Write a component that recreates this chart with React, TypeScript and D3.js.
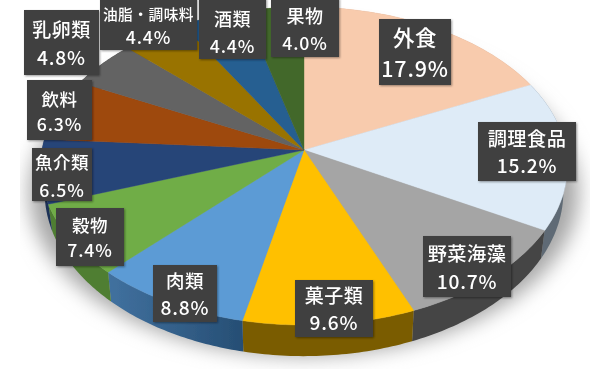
import React from "react";
import * as d3 from "d3";

const categories = ["外食", "調理食品", "野菜海藻", "菓子類", "肉類", "穀物", "魚介類", "飲料", "乳卵類", "油脂・調味料", "酒類", "果物"];
const shares = [17.9, 15.2, 10.7, 9.6, 8.8, 7.4, 6.5, 6.3, 4.8, 4.4, 4.4, 4.0];
const topColors = ["#F8CBAD", "#DEEBF7", "#A5A5A5", "#FFC000", "#5B9BD5", "#70AD47", "#264478", "#9E480E", "#636363", "#997300", "#255E91", "#43682B"];
const sideColors = ["#C9A48C", "#5F6B75", "#444444", "#7A5C00", "url(#blueSide)", "#4F7E32", "#1B3157", "#6E320A", "#444444", "#6B5000", "#1A4266", "#2F491E"];

// label boxes [x0, y0, x1, y1, name size, value size]
const labelBoxes = [
  [379, 19, 451, 85, 21.5, 21.5],
  [478, 122, 576, 181, 19.2, 19.2],
  [423, 236, 511, 297, 19.2, 19.2],
  [295, 280, 373, 337, 19, 19.2],
  [153, 265, 217, 322, 18.5, 19.2],
  [56, 208, 124, 266, 17.5, 17.7],
  [32, 148, 92, 201, 17.5, 17.7],
  [27, 80, 92, 140, 17.5, 17.7],
  [24, 10, 99, 75, 19, 19.2],
  [100, -2, 197, 50, 14.7, 17.7],
  [199, -2, 266, 59, 18, 17.7],
  [271, -2, 339, 57, 18, 17.7],
];
const nameY = [0.26, 0.27, 0.28, 0.25, 0.26, 0.28, 0.26, 0.3, 0.29, 0.29, 0.33, 0.29];
const valueY = [0.74, 0.73, 0.74, 0.74, 0.74, 0.71, 0.77, 0.72, 0.72, 0.73, 0.77, 0.75];

const W = 605, H = 376;
const apex = { x: 304, y: 150 };
const A = 262, B = 157.4, K = -0.1006;

type Pt = [number, number];
// perspective projection of the unit disc; scales shift it to the lower rim
const project = (theta: number, sx = 1, sy = 1, dy = 0): Pt => {
  const u = Math.sin(theta), v = -Math.cos(theta);
  const w = 1 + K * v;
  return [apex.x + (A * sx * u) / w, apex.y + dy + (B * sy * v) / w];
};
const arcPts = (a0: number, a1: number, sx = 1, sy = 1, dy = 0): Pt[] =>
  d3.range(0, 41).map((i) => project(a0 + ((a1 - a0) * i) / 40, sx, sy, dy));

const line = d3.line<Pt>();
const RIM = { sx: 0.985, sy: 1.035, dy: 25 };

export default function App() {
  const arcs = d3.pie<number>().sort(null)(shares);
  const shadow = arcPts(0, 2 * Math.PI, 1.045, 1.03, 26);
  return (
    <svg width={W} height={H} style={{ position: "absolute", left: 0, top: 0, background: "#fff" }}>
      <defs>
        <filter id="blur" x="-20%" y="-20%" width="140%" height="140%">
          <feGaussianBlur stdDeviation="10" />
        </filter>
        <filter id="soft" x="-2%" y="-2%" width="104%" height="104%">
          <feGaussianBlur stdDeviation="0.35" />
        </filter>
        <filter id="boxShadow" x="-10%" y="-10%" width="125%" height="125%">
          <feDropShadow dx="1" dy="1" stdDeviation="1" floodColor="#000" floodOpacity="0.4" />
        </filter>
        <clipPath id="shadowClip">
          <rect x={20} y={0} width={570} height={369} />
        </clipPath>
        <linearGradient id="blueSide" x1="0" x2="1" y1="0" y2="0">
          <stop offset="0" stopColor="#41719F" />
          <stop offset="1" stopColor="#264E74" />
        </linearGradient>
      </defs>
      <g clipPath="url(#shadowClip)">
        <path d={line(shadow) + "Z"} fill="#a6a6a6" filter="url(#blur)" />
      </g>
      <g filter="url(#soft)">
        {arcs.map((a, i) => {
          const upper = arcPts(a.startAngle, a.endAngle);
          const lower = arcPts(a.startAngle, a.endAngle, RIM.sx, RIM.sy, RIM.dy).reverse();
          return <path key={i} d={line([...upper, ...lower]) + "Z"} fill={sideColors[i]} />;
        })}
        {arcs.map((a, i) => (
          <path
            key={i}
            d={line([[apex.x, apex.y] as Pt, ...arcPts(a.startAngle, a.endAngle)]) + "Z"}
            fill={topColors[i]}
            stroke={topColors[i]}
            strokeWidth={0.4}
          />
        ))}
        {categories.map((c, i) => {
          const [x0, y0, x1, y1, s1, s2] = labelBoxes[i];
          const h = y1 - y0, cx = (x0 + x1) / 2;
          return (
            <g key={c} fontFamily="'Noto Sans CJK JP','Noto Sans',sans-serif" fill="#fff" textAnchor="middle" fontWeight={500}>
              <rect x={x0} y={y0} width={x1 - x0} height={h} fill="#404040" filter="url(#boxShadow)" />
              <text x={cx} y={y0 + h * nameY[i]} fontSize={s1} dominantBaseline="central" letterSpacing={0.5}>{c}</text>
              <text x={cx} y={y0 + h * valueY[i]} fontSize={s2} dominantBaseline="central" letterSpacing={0.8}>{shares[i].toFixed(1)}%</text>
            </g>
          );
        })}
      </g>
    </svg>
  );
}
